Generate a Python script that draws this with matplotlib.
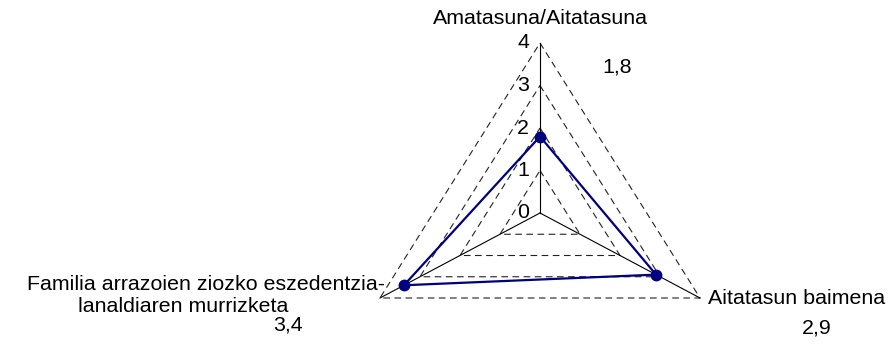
import matplotlib.pyplot as plt
import numpy as np

categories = ['Amatasuna/Aitatasuna', 'Aitatasun baimena',
              'Familia arrazoien ziozko eszedentzia-\nlanaldiaren murrizketa']
values = [1.8, 2.9, 3.4]
value_labels = ['1,8', '2,9', '3,4']
levels = [0, 1, 2, 3, 4]

plt.rcParams['font.family'] = ['Liberation Sans', 'DejaVu Sans']
FS = 15.4
NAVY = '#000080'

# axis directions: top, bottom-right, bottom-left
angles = np.deg2rad([90, -30, 210])
dx = np.cos(angles)
dy = np.sin(angles)


def tri(r):
    x = list(r * dx) + [r * dx[0]]
    y = list(r * dy) + [r * dy[0]]
    return x, y


def px(x, y):
    # pixel position (from top-left) -> data coords; centre at (540, 213) px
    return (x - 540) / 46.2, (213 - y) / 42.5


fig = plt.figure(figsize=(8.89, 3.45), dpi=100)
ax = fig.add_axes([0, 0, 1, 1])
# px per unit: x 46.2, y 42.5
ax.set_xlim(-540 / 46.2, (889 - 540) / 46.2)
ax.set_ylim(-132 / 42.5, 213 / 42.5)
ax.axis('off')

# grid
for lv in levels[1:]:
    gx, gy = tri(lv)
    ax.plot(gx, gy, color='#222222', lw=0.8, ls=(0, (6, 4)))

# spokes
rmax = levels[-1]
for i in range(3):
    ax.plot([0, rmax * dx[i]], [0, rmax * dy[i]], color='black', lw=0.8)

# tick labels on top axis
for lv in levels:
    ax.text(-0.24, lv, str(lv), ha='right', va='center', fontsize=FS)

# series
sx = list(np.array(values) * dx) + [values[0] * dx[0]]
sy = list(np.array(values) * dy) + [values[0] * dy[0]]
ax.plot(sx, sy, color=NAVY, lw=1.6, marker='o', markersize=7.5, markevery=[0, 1, 2])

# category labels
ax.text(*px(540, 18), categories[0], ha='center', va='center', fontsize=FS)
ax.text(*px(708, 298), categories[1], ha='left', va='center', fontsize=FS)
line1, line2 = categories[2].split('\n')
ax.text(*px(385, 285), line1, ha='right', va='center', fontsize=FS)
ax.text(*px(183, 306), line2, ha='center', va='center', fontsize=FS)

# value labels
ax.text(*px(617, 67), value_labels[0], ha='center', va='center', fontsize=FS)
ax.text(*px(817, 328), value_labels[1], ha='center', va='center', fontsize=FS)
ax.text(*px(288, 325), value_labels[2], ha='center', va='center', fontsize=FS)

plt.savefig('out.png', dpi=100)
